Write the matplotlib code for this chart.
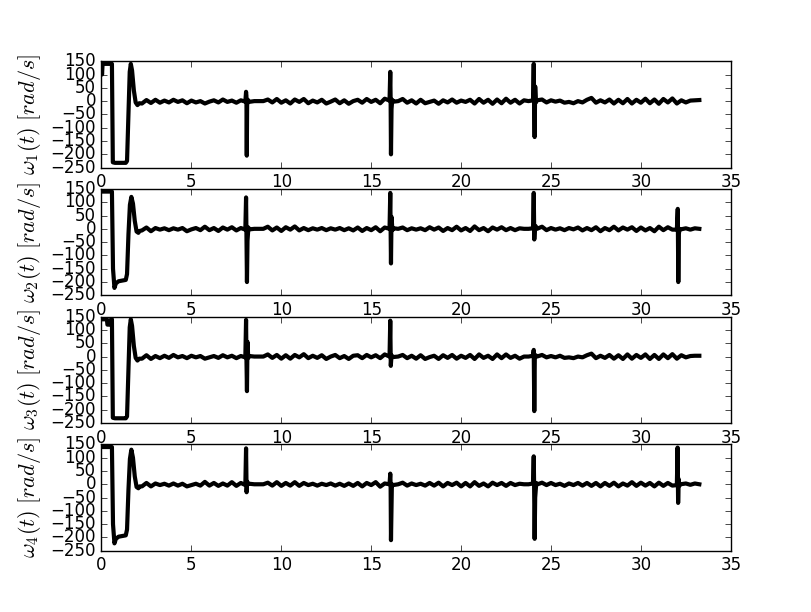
import numpy as np
import matplotlib
matplotlib.use('Agg')
import matplotlib.pyplot as plt

plt.style.use('classic')

# time grid of the small oscillation part (2.25 s .. 33.25 s)
base_t = np.linspace(2.25, 33.25, 125)

# start-up transients
start1_t = [0, 0.03, 0.06, 0.1, 0.58, 0.63, 0.75, 1.35, 1.42, 1.5, 1.57, 1.63, 1.7, 1.8, 1.9, 2.0, 2.1]
start1_v = [140, 100, 140, 140, 140, -230, -232, -232, -225, -40, 110, 140, 115, 40, -5, -15, -8]
start2_t = [0, 0.58, 0.64, 0.72, 0.8, 0.95, 1.35, 1.42, 1.5, 1.58, 1.66, 1.75, 1.85, 1.95, 2.05, 2.12]
start2_v = [140, 140, -150, -222, -205, -197, -192, -170, -20, 90, 120, 95, 30, -10, -15, -8]
start3_t = [0, 0.3, 0.33, 0.5, 0.53, 0.58, 0.63, 0.75, 1.35, 1.42, 1.5, 1.57, 1.63, 1.7, 1.8, 1.9, 2.0, 2.1]
start3_v = [140, 140, 120, 120, 140, 140, -230, -232, -232, -225, -40, 110, 140, 115, 40, -5, -15, -8]
start4_t = [0, 0.58, 0.64, 0.72, 0.8, 0.95, 1.35, 1.42, 1.5, 1.58, 1.66, 1.75, 1.85, 1.95, 2.05, 2.12]
start4_v = [140, 140, -150, -222, -205, -197, -192, -170, -20, 95, 130, 100, 30, -10, -15, -8]

# small oscillations
base1 = [-9, 4, -7, 5, -6, 2, -5, 5, -3, 3,
         -8, 2, -5, 0, -9, -2, 3, -5, 6, -3,
         2, -6, 3, -5, 0, 0, 0, 0, 6, -5,
         8, -6, 3, -9, 6, -3, 8, -8, 2, -5,
         5, -9, -2, 6, -8, 3, -10, 0, 5, -6,
         8, -3, 5, -8, 9, -5, 0, 0, 8, -6,
         3, -9, 5, -8, -3, 2, -10, 3, -5, 6,
         -6, 2, -3, 5, -9, 8, -6, 5, -10, 6,
         -8, 9, -6, 5, -9, 3, 0, 0, 0, 6,
         -5, 3, -2, 2, -6, -3, -8, 0, -5, 5,
         12, -6, 3, -5, 6, -9, 5, -8, 8, -9,
         5, -6, 9, -8, 6, -10, 8, -5, 10, -9,
         3, -5, 2, 3, 4]
base2 = [-6, 5, -9, 3, -3, 2, -5, 2, -3, 3,
         -9, -2, 3, -5, 8, -5, 3, -8, 5, -3,
         6, -6, 3, -8, 0, 0, 0, 0, 8, -6,
         5, -8, 6, -3, 9, -6, 3, -5, 2, -3,
         3, -5, 2, -3, 3, -5, 2, -6, 5, -8,
         3, -5, 6, -9, 5, -3, 0, 0, 5, -5,
         2, -3, 2, -5, 6, -3, 5, -8, 3, -5,
         8, -6, 3, -8, 9, -5, 3, -9, 5, -3,
         6, -5, 3, -5, 2, 0, 0, 0, 0, 8,
         -5, 3, -3, 2, -5, 3, -2, 5, -6, 3,
         -5, 6, -9, 3, -5, 8, -6, 5, -3, 6,
         -8, 5, -6, 3, -9, 8, -5, 6, -3, 3,
         -3, 2, -3, 2, 0]
base3 = [-8, 5, -9, 2, -6, 3, -5, 6, -3, 2,
         -6, 3, -3, 2, -8, -3, 2, -5, 5, -3,
         3, -6, 2, -5, 0, 0, 0, 0, 8, -5,
         6, -8, 5, -8, 6, -3, 9, -6, 3, -5,
         5, -9, 0, 6, -6, 2, -9, 3, 5, -6,
         6, -3, 5, -6, 8, -5, 0, 0, 6, -6,
         3, -8, 5, -9, -2, 3, -9, 5, -5, 6,
         -8, 3, -5, 6, -9, 8, -5, 3, -9, 8,
         -6, 8, -5, 3, -8, 0, 0, 0, 0, 6,
         -3, 2, -3, 3, -5, -3, -6, 0, -3, 5,
         11, -6, 3, -5, 6, -8, 5, -9, 8, -8,
         6, -5, 8, -9, 6, -9, 8, -6, 9, -8,
         5, -3, 2, 3, 3]
base4 = [-8, 5, -8, 3, -3, 2, -5, 3, -5, 2,
         -8, -3, 2, -5, 9, -5, 5, -6, 3, -5,
         8, -6, 5, -8, 0, 0, 0, 0, 6, -5,
         8, -6, 5, -5, 8, -6, 5, -3, 2, -5,
         2, -3, 3, -5, 2, -6, 3, -6, 5, -8,
         5, -3, 8, -9, 3, -3, 0, 0, 6, -5,
         3, -3, 2, -5, 5, -5, 6, -8, 5, -3,
         6, -8, 5, -8, 8, -6, 3, -8, 6, -3,
         5, -6, 5, -3, 2, 0, 0, 0, 0, 6,
         -3, 5, -3, 2, -6, 3, -3, 5, -5, 5,
         -6, 5, -8, 5, -6, 6, -8, 3, -5, 8,
         -6, 6, -5, 5, -8, 6, -6, 5, -5, 3,
         -5, 3, -2, 3, 0]

# spikes at the switching instants
spk1_t = [8.0, 8.04, 8.06, 8.08, 8.1, 8.14, 8.2,
          16.02, 16.06, 16.08, 16.1, 16.13, 16.17, 16.25,
          24.0, 24.04, 24.06, 24.09, 24.12, 24.16, 24.22]
spk1_v = [-2, 35, 20, -205, -15, 5, -3,
          2, 110, 10, -200, -30, 5, -2,
          3, 140, 0, -135, 55, -5, 3]
spk2_t = [8.0, 8.04, 8.06, 8.09, 8.12, 8.17, 8.22,
          16.02, 16.06, 16.08, 16.1, 16.13, 16.18, 16.25,
          24.0, 24.04, 24.07, 24.1, 24.15, 24.22,
          32.0, 32.05, 32.08, 32.11, 32.15, 32.22]
spk2_v = [-3, 118, 0, -200, -45, 5, -2,
          0, 135, 0, -130, 45, -5, 2,
          2, 135, -40, 5, 10, 0,
          -3, 75, -200, -20, 0, -2]
spk3_t = [8.0, 8.04, 8.06, 8.09, 8.12, 8.16, 8.22,
          16.02, 16.06, 16.09, 16.13, 16.2,
          24.0, 24.04, 24.07, 24.1, 24.15, 24.22]
spk3_v = [-3, 138, 0, -130, 55, -5, 2,
          0, 135, -35, 5, -2,
          3, 25, -205, 0, 5, 0]
spk4_t = [8.0, 8.04, 8.07, 8.1, 8.15, 8.22,
          16.02, 16.06, 16.08, 16.1, 16.15, 16.22,
          24.0, 24.04, 24.06, 24.09, 24.12, 24.18, 24.25,
          32.0, 32.04, 32.07, 32.1, 32.14, 32.2]
spk4_v = [-3, 135, -30, 10, 0, 2,
          0, 40, 0, -210, 0, -3,
          3, 105, 0, -205, -50, 5, 0,
          -3, 138, -70, 20, -5, 0]

def build(st, sv, base, kt, kv):
	bt = np.array(base_t)
	bv = np.array(base, dtype=float)
	keep = np.ones(len(bt), dtype=bool)
	for c in [8.0, 16.0, 24.0, 32.0]:
		if any(abs(np.array(kt) - c) < 0.5):
			keep &= ~((bt > c - 0.05) & (bt < c + 0.3))
	t = np.concatenate([st, bt[keep], kt])
	v = np.concatenate([sv, bv[keep], kv])
	o = np.argsort(t, kind='stable')
	return t[o], v[o]

series = [build(start1_t, start1_v, base1, spk1_t, spk1_v),
          build(start2_t, start2_v, base2, spk2_t, spk2_v),
          build(start3_t, start3_v, base3, spk3_t, spk3_v),
          build(start4_t, start4_v, base4, spk4_t, spk4_v)]

fig = plt.figure(figsize=(8.12, 6.12), dpi=100)
for i in range(4):
	ax = fig.add_subplot(4, 1, i + 1)
	t, v = series[i]
	ax.plot(t, v, color='black', linewidth=3)
	ax.set_xlim(0, 35)
	ax.set_ylim(-250, 150)
	ax.set_xticks(range(0, 36, 5))
	ax.set_yticks(range(-250, 151, 50))
	ax.set_ylabel(r'$\omega_%d(t)\ [rad/s]$' % (i + 1), fontsize=16)
fig.savefig('out.png', dpi=100, facecolor='white')
